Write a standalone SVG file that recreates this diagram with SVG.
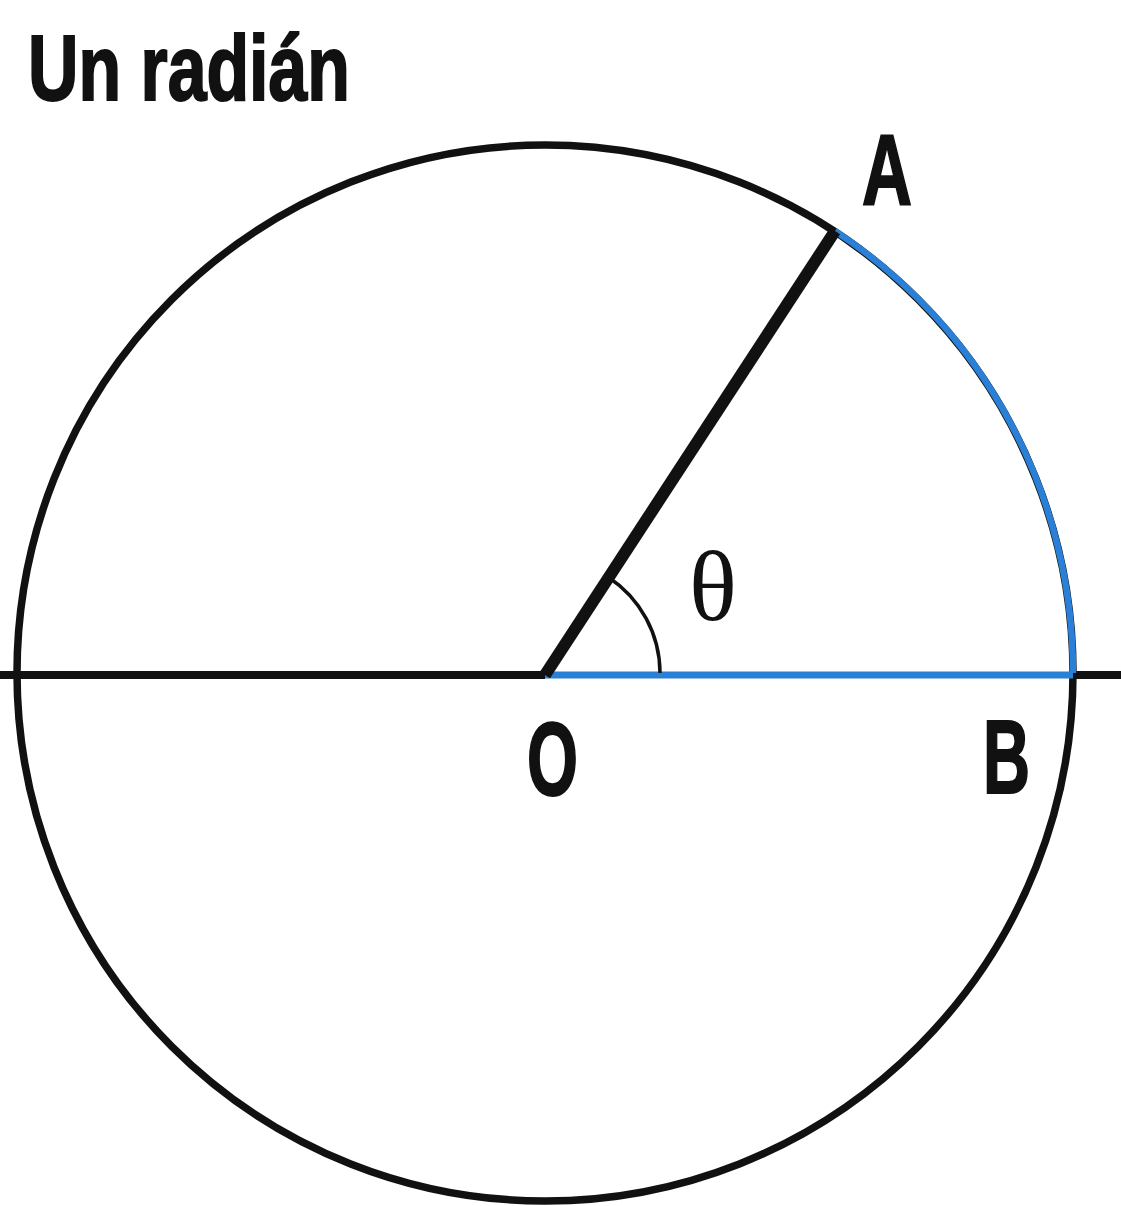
<svg xmlns="http://www.w3.org/2000/svg" width="1121" height="1206" viewBox="0 0 1121 1206">
<style>
.lbl{font-family:"Liberation Sans Narrow","Liberation Sans",Arial,sans-serif;font-weight:bold;fill:#111;stroke:#111;stroke-width:2;}
.blk{fill:none;stroke:#111;stroke-linecap:butt;}
.blu{fill:none;stroke:#2a7fd6;}
</style>
<rect width="1121" height="1206" fill="#ffffff"/>
<text class="lbl" x="28" y="100" font-size="92" textLength="322" lengthAdjust="spacingAndGlyphs">Un radián</text>
<g id="circle">
<circle cx="545" cy="673" r="528" class="blk" stroke-width="7.5"/>
</g>
<g id="connectors">
<line x1="0" y1="675" x2="545" y2="675" class="blk" stroke-width="8"/>
<line x1="1073" y1="675" x2="1121" y2="675" class="blk" stroke-width="8"/>
<line x1="545" y1="675" x2="1073" y2="675" class="blu" stroke-width="7"/>
<path d="M 1073 673 A 528 528 0 0 0 835 231" class="blu" stroke-width="6.5"/>
<line x1="545" y1="675" x2="835" y2="231" class="blk" stroke-width="12"/>
<path d="M 660 673 A 115 115 0 0 0 608 577" class="blk" stroke-width="3.5"/>
</g>
<g id="A"><text class="lbl" x="862" y="205" font-size="100" textLength="50" lengthAdjust="spacingAndGlyphs">A</text></g>
<g id="O"><text class="lbl" x="527" y="795" font-size="104" textLength="51" lengthAdjust="spacingAndGlyphs">O</text></g>
<g id="B"><text class="lbl" x="983" y="793" font-size="104" textLength="47" lengthAdjust="spacingAndGlyphs">B</text></g>
<g id="theta"><text x="713" y="620" font-family="'Liberation Serif','Times New Roman',serif" font-size="100" text-anchor="middle" fill="#111">θ</text></g>
</svg>
